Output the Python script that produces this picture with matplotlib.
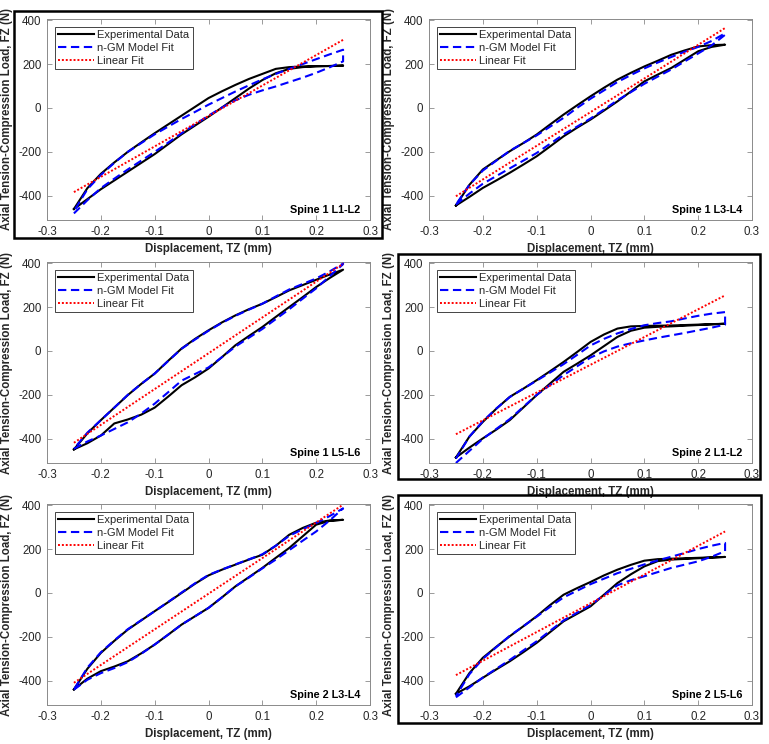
import matplotlib
matplotlib.use("Agg")
import matplotlib.pyplot as plt
import matplotlib.patches as mpatches

plt.rcParams["font.family"] = ["Liberation Sans", "DejaVu Sans"]
plt.rcParams["axes.unicode_minus"] = False

# displacement grid (mm) used for every branch
disp = [-0.25, -0.225, -0.2, -0.175, -0.15, -0.125, -0.1, -0.075, -0.05, -0.025, 0.0,
        0.025, 0.05, 0.075, 0.1, 0.125, 0.15, 0.175, 0.2, 0.225, 0.25]
lin_x = [-0.25, 0.25]

# Spine 1 L1-L2
s1_l12_exp_up = [-460, -365, -300, -248, -200, -157, -115, -75, -35, 5, 45, 76, 105, 132, 155, 178, 186, 189, 190, 191, 193]
s1_l12_exp_lo = [-460, -415, -370, -330, -290, -250, -210, -165, -120, -80, -40, 2, 45, 88, 127, 158, 178, 186, 190, 191, 193]
s1_l12_fit_up = [-470, -370, -305, -250, -200, -160, -120, -85, -50, -18, 15, 45, 75, 103, 130, 155, 178, 200, 222, 244, 265]
s1_l12_fit_lo = [-480, -420, -365, -322, -280, -240, -200, -158, -115, -75, -35, 2, 35, 60, 80, 98, 118, 138, 160, 185, 212]
s1_l12_lin = [-383, 310]

# Spine 1 L3-L4
s1_l34_exp_up = [-444, -350, -280, -238, -197, -160, -121, -75, -30, 12, 53, 92, 129, 160, 189, 215, 242, 262, 280, 286, 288]
s1_l34_exp_lo = [-444, -405, -364, -330, -295, -258, -220, -175, -129, -90, -53, -12, 30, 75, 121, 152, 182, 220, 258, 278, 288]
s1_l34_fit_up = [-440, -350, -285, -240, -195, -160, -125, -85, -45, 0, 42, 80, 118, 150, 180, 207, 232, 256, 278, 305, 340]
s1_l34_fit_lo = [-440, -390, -345, -310, -275, -240, -205, -163, -120, -85, -48, -7, 35, 72, 110, 143, 175, 212, 248, 285, 333]
s1_l34_lin = [-402, 364]

# Spine 1 L5-L6
s1_l56_exp_up = [-448, -375, -315, -258, -201, -150, -103, -45, 11, 55, 94, 130, 162, 190, 215, 245, 276, 300, 324, 348, 370]
s1_l56_exp_lo = [-448, -420, -385, -330, -312, -290, -258, -208, -156, -120, -80, -28, 26, 68, 109, 155, 200, 245, 291, 332, 370]
s1_l56_fit_up = [-445, -372, -315, -258, -200, -150, -103, -46, 10, 52, 92, 128, 160, 188, 215, 248, 280, 305, 330, 362, 398]
s1_l56_fit_lo = [-445, -412, -385, -355, -325, -285, -240, -188, -135, -105, -75, -28, 20, 60, 100, 145, 190, 238, 285, 340, 395]
s1_l56_lin = [-418, 397]

# Spine 2 L1-L2
s2_l12_exp_up = [-485, -390, -323, -263, -209, -172, -133, -92, -50, -5, 41, 75, 102, 112, 114, 115, 116, 118, 120, 122, 124]
s2_l12_exp_lo = [-485, -440, -398, -358, -315, -258, -201, -148, -95, -58, -20, 22, 64, 92, 106, 110, 112, 115, 118, 121, 124]
s2_l12_fit_up = [-490, -390, -320, -262, -210, -172, -135, -98, -60, -18, 25, 55, 80, 100, 117, 127, 135, 148, 160, 170, 177]
s2_l12_fit_lo = [-510, -455, -400, -355, -310, -255, -200, -155, -110, -70, -30, -2, 20, 35, 48, 60, 71, 82, 94, 106, 120]
s2_l12_lin = [-379, 253]

# Spine 2 L3-L4
s2_l34_exp_up = [-439, -345, -273, -218, -167, -125, -83, -42, 0, 42, 80, 106, 129, 152, 174, 215, 265, 296, 320, 330, 333]
s2_l34_exp_lo = [-439, -390, -356, -335, -311, -275, -235, -190, -144, -106, -68, -20, 30, 72, 114, 160, 205, 258, 311, 328, 333]
s2_l34_fit_up = [-440, -340, -270, -216, -165, -124, -83, -41, 2, 44, 82, 107, 130, 153, 176, 215, 260, 290, 318, 350, 385]
s2_l34_fit_lo = [-440, -395, -365, -342, -315, -277, -235, -190, -144, -106, -68, -20, 30, 70, 112, 152, 195, 238, 280, 330, 385]
s2_l34_lin = [-409, 402]

# Spine 2 L5-L6
s2_l56_exp_up = [-459, -365, -295, -245, -197, -152, -106, -55, -8, 22, 50, 80, 106, 128, 147, 154, 156, 158, 160, 162, 164]
s2_l56_exp_lo = [-459, -425, -386, -348, -311, -270, -227, -178, -129, -95, -61, -8, 45, 85, 121, 145, 152, 155, 158, 161, 164]
s2_l56_fit_up = [-470, -370, -300, -247, -195, -152, -108, -63, -20, 10, 40, 65, 90, 110, 130, 148, 165, 182, 200, 215, 228]
s2_l56_fit_lo = [-475, -430, -385, -345, -305, -262, -220, -172, -125, -90, -55, -10, 35, 58, 76, 95, 114, 129, 144, 165, 190]
s2_l56_lin = [-374, 280]

panel_names = ["Spine 1 L1-L2", "Spine 1 L3-L4", "Spine 1 L5-L6",
               "Spine 2 L1-L2", "Spine 2 L3-L4", "Spine 2 L5-L6"]
panels = [
    (s1_l12_exp_up, s1_l12_exp_lo, s1_l12_fit_up, s1_l12_fit_lo, s1_l12_lin),
    (s1_l34_exp_up, s1_l34_exp_lo, s1_l34_fit_up, s1_l34_fit_lo, s1_l34_lin),
    (s1_l56_exp_up, s1_l56_exp_lo, s1_l56_fit_up, s1_l56_fit_lo, s1_l56_lin),
    (s2_l12_exp_up, s2_l12_exp_lo, s2_l12_fit_up, s2_l12_fit_lo, s2_l12_lin),
    (s2_l34_exp_up, s2_l34_exp_lo, s2_l34_fit_up, s2_l34_fit_lo, s2_l34_lin),
    (s2_l56_exp_up, s2_l56_exp_lo, s2_l56_fit_up, s2_l56_fit_lo, s2_l56_lin),
]
framed = [0, 3, 5]

W, H = 769, 744
fig = plt.figure(figsize=(W / 100, H / 100), dpi=100)

col_left = [47, 429]
row_top = [19, 262, 504]
ax_w, ax_h = 323, 201

# frames around selected panels (pixel boxes)
frame_px = {0: (14, 11, 382, 238), 3: (398, 254, 760, 479), 5: (398, 495, 761, 723)}


def loop(up, lo):
    # loading along the lower branch, unloading back along the upper one
    x = list(disp) + list(disp[::-1])
    y = list(lo) + list(up[::-1])
    return x, y


for i, (name, (eu, el, fu, fl, lin)) in enumerate(zip(panel_names, panels)):
    r, c = divmod(i, 2)
    left = col_left[c]
    top = row_top[r]
    ax = fig.add_axes([left / W, 1 - (top + ax_h) / H, ax_w / W, ax_h / H])

    ex, ey = loop(eu, el)
    fx, fy = loop(fu, fl)
    ax.plot(ex, ey, color="black", lw=1.5, label="Experimental Data", zorder=3)
    ax.plot(fx, fy, color="#0000ff", lw=1.5, ls=(0, (4, 2.2)), label="n-GM Model Fit", zorder=4)
    ax.plot(lin_x, lin, color="#ff0000", lw=1.4, ls=(0, (1, 1)), label="Linear Fit", zorder=5)

    ax.set_xlim(-0.3, 0.3)
    ax.set_ylim(-510, 405)
    ax.set_xticks([-0.3, -0.2, -0.1, 0, 0.1, 0.2, 0.3])
    ax.set_xticklabels(["-0.3", "-0.2", "-0.1", "0", "0.1", "0.2", "0.3"])
    ax.set_yticks([-400, -200, 0, 200, 400])
    ax.tick_params(direction="in", top=True, right=True, length=3.5, width=0.6,
                   colors="#8a8a8a", labelcolor="#262626", labelsize=8.3)
    ax.tick_params(axis="x", pad=4)
    ax.tick_params(axis="y", pad=4)
    for sp in ax.spines.values():
        sp.set_color("#8a8a8a")
        sp.set_linewidth(0.7)

    ax.set_xlabel("Displacement, TZ (mm)", fontsize=8.3, fontweight="bold", color="#262626")
    ax.xaxis.set_label_coords(0.5, -0.115)
    ax.set_ylabel("Axial Tension-Compression Load, FZ (N)", fontsize=8.3,
                  fontweight="bold", color="#262626")
    ax.yaxis.label.set_va("center")
    ax.yaxis.set_label_coords(-0.124, 0.5)

    leg = ax.legend(loc="upper left", bbox_to_anchor=(0.025, 0.96), borderaxespad=0,
                    fontsize=8, handlelength=3.2, handletextpad=0.3, labelspacing=0.25,
                    borderpad=0.3, fancybox=False, framealpha=1)
    leg.get_frame().set_edgecolor("#262626")
    leg.get_frame().set_linewidth(0.6)
    for t in leg.get_texts():
        t.set_color("#262626")

    ax.text(0.97, 0.035, name, transform=ax.transAxes, ha="right", va="baseline",
            fontsize=7.8, fontweight="bold", color="black")

    if i in framed:
        x0, y0, x1, y1 = frame_px[i]
        fig.patches.append(mpatches.Rectangle(
            (x0 / W, 1 - y1 / H), (x1 - x0) / W, (y1 - y0) / H,
            transform=fig.transFigure, fill=False, edgecolor="black", lw=1.8, zorder=10))

fig.savefig("out.png", dpi=100)
